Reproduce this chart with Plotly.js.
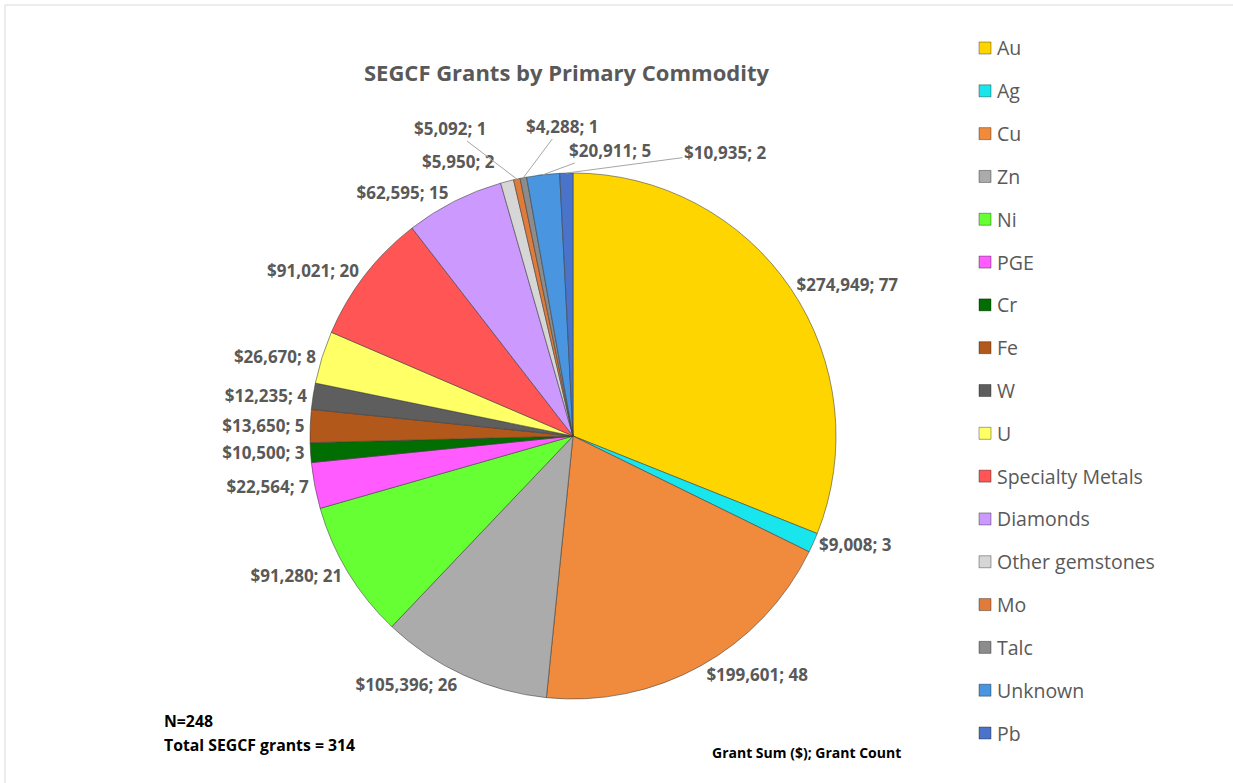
<!DOCTYPE html>
<html>
<head>
<meta charset="utf-8">
<script src="https://cdn.plot.ly/plotly-3.0.1.min.js"></script>
<style>html,body{margin:0;padding:0;background:#fff;}#chart{width:1233px;height:783px;}</style>
</head>
<body>
<div id="chart"></div>
<script>
const categories = ["Au","Ag","Cu","Zn","Ni","PGE","Cr","Fe","W","U","Specialty Metals","Diamonds","Other gemstones","Mo","Talc","Unknown","Pb"];
const grantSums = [274949,9008,199601,105396,91280,22564,10500,13650,12235,26670,91021,62595,5950,5092,4288,20911,10935];
const grantCounts = [77,3,48,26,21,7,3,5,4,8,20,15,2,1,1,5,2];
const sliceColors = ["#FFD500","#19E6EC","#F08A3C","#ABABAB","#66FF33","#FF5BFF","#006E00","#B3581B","#5E5E5E","#FFFF66","#FF5555","#CC99FF","#D6D6D6","#E07B39","#8C8C8C","#4A95DF","#4A74C9"];

// layout-only: where the crowded top labels sit (pixel centres), keyed by category index
const calloutPos = { 12: [458, 162], 13: [450, 128], 14: [562, 126], 15: [610, 150], 16: [725, 152] };
const calloutLine = { 12: false, 13: true, 14: true, 15: true, 16: true };

const fontFam = "'Open Sans', Lato, sans-serif";
const W = 1233, H = 783;
const px = x => x / W;
const py = y => 1 - y / H;

const fmt = n => "$" + n.toLocaleString("en-US");
const labelOf = i => fmt(grantSums[i]) + "; " + grantCounts[i];
const sliceText = categories.map((c, i) => (i in calloutPos) ? "" : labelOf(i));

const labelSize = 17;
const pieX = [310, 836], pieY = [172, 700];
const trace = {
  type: "pie",
  labels: categories,
  values: grantCounts,
  text: sliceText,
  textinfo: "text",
  textposition: "outside",
  sort: false,
  direction: "clockwise",
  rotation: 0,
  marker: { colors: sliceColors, line: { color: "rgba(60,60,60,0.55)", width: 1 } },
  outsidetextfont: { family: fontFam, size: labelSize, color: "#595959", weight: "bold" },
  domain: { x: [px(pieX[0]), px(pieX[1])], y: [py(pieY[1]), py(pieY[0])] },
  hoverinfo: "label+text",
  showlegend: false
};

const annotations = [
  { text: "<b>SEGCF Grants by Primary Commodity</b>", x: px(566), y: py(72), xref: "paper", yref: "paper", yanchor: "middle", showarrow: false, font: { family: fontFam, size: 22, color: "#595959" } },
  { text: "<b>N=248</b>", x: px(162), y: py(721), xref: "paper", yref: "paper", xanchor: "left", yanchor: "middle", showarrow: false, font: { family: fontFam, size: 15.8, color: "#000" } },
  { text: "<b>Total SEGCF grants = 314</b>", x: px(162), y: py(745), xref: "paper", yref: "paper", xanchor: "left", yanchor: "middle", showarrow: false, font: { family: fontFam, size: 15.8, color: "#000" } },
  { text: "<b>Grant Sum ($); Grant Count</b>", x: px(806), y: py(752), xref: "paper", yref: "paper", yanchor: "middle", showarrow: false, font: { family: fontFam, size: 14, color: "#000" } }
];

// callouts for the thin slices at the top: arrow tip at the slice's outer-edge midpoint, computed from the counts
const total = grantCounts.reduce((a, b) => a + b, 0);
const cx = (pieX[0] + pieX[1]) / 2, cy = (pieY[0] + pieY[1]) / 2;
const r = Math.min(pieX[1] - pieX[0], pieY[1] - pieY[0]) / 2;
let cum = 0;
grantCounts.forEach((v, i) => {
  const mid = (cum + v / 2) / total * 2 * Math.PI;
  cum += v;
  if (!(i in calloutPos)) return;
  const hx = cx + r * Math.sin(mid), hy = cy - r * Math.cos(mid);
  const [lx, ly] = calloutPos[i];
  annotations.push({
    text: "<b>" + labelOf(i) + "</b>", xref: "paper", yref: "paper",
    x: px(hx), y: py(hy), ax: lx - hx, ay: ly - hy,
    showarrow: calloutLine[i], arrowhead: 0, arrowwidth: 1, arrowcolor: "#A6A6A6",
    standoff: 0, startstandoff: 0,
    font: { family: fontFam, size: labelSize, color: "#595959" },
    ...(calloutLine[i] ? {} : { x: px(lx), y: py(ly), yanchor: "middle" })
  });
});

const shapes = [
  { type: "line", xref: "paper", yref: "paper", x0: px(5), x1: 1, y0: py(5), y1: py(5), line: { color: "#D9D9D9", width: 1 } },
  { type: "line", xref: "paper", yref: "paper", x0: px(5), x1: px(5), y0: py(5), y1: 0, line: { color: "#D9D9D9", width: 1 } }
];

// legend entries built from categories and colours
const legTop = 48, legStep = (733 - 48) / (categories.length - 1);
categories.forEach((c, i) => {
  const yc = legTop + i * legStep;
  shapes.push({ type: "rect", xref: "paper", yref: "paper", x0: px(979), x1: px(991), y0: py(yc + 6), y1: py(yc - 6), fillcolor: sliceColors[i], line: { color: "rgba(0,0,0,0.35)", width: 1 } });
  annotations.push({ text: c, x: px(995), y: py(yc), xref: "paper", yref: "paper", xanchor: "left", yanchor: "middle", showarrow: false, font: { family: fontFam, size: 19.5, color: "#595959" } });
});

const layout = {
  width: W, height: H,
  margin: { l: 0, r: 0, t: 0, b: 0 },
  paper_bgcolor: "#fff",
  showlegend: false,
  annotations: annotations,
  shapes: shapes
};

Plotly.newPlot("chart", [trace], layout, { displayModeBar: false, staticPlot: true });
</script>
</body>
</html>
